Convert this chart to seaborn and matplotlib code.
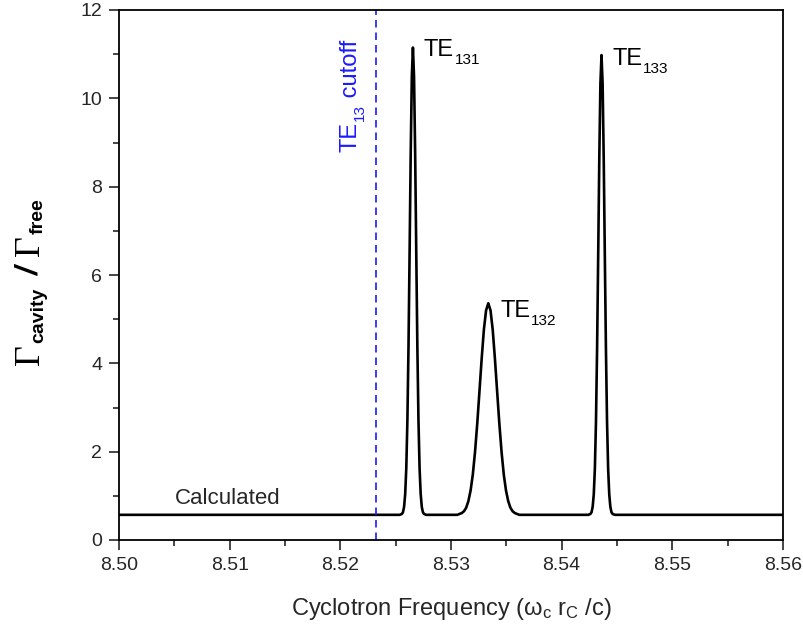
import numpy as np
import pandas as pd
import seaborn as sns
import matplotlib.pyplot as plt
from matplotlib.ticker import MultipleLocator, FormatStrFormatter

# baseline level and curve
baseline = 0.57
start_x, end_x = 8.500, 8.560

peak1_x = [8.52536, 8.52556, 8.52566, 8.52576, 8.52586, 8.52596, 8.52606, 8.52616, 8.52626,
           8.52636, 8.52646, 8.52656, 8.52666, 8.52676, 8.52686, 8.52696, 8.52706, 8.52716,
           8.52726, 8.52736, 8.52746, 8.52756, 8.52776]
peak1_y = [0.57, 0.59, 0.63, 0.75, 1.04, 1.63, 2.71, 4.38, 6.53, 8.77, 10.49, 11.15,
           10.49, 8.77, 6.53, 4.38, 2.71, 1.63, 1.04, 0.75, 0.63, 0.59, 0.57]

peak2_x = [8.53057, 8.53077, 8.53097, 8.53117, 8.53137, 8.53157, 8.53177, 8.53197, 8.53217,
           8.53237, 8.53257, 8.53277, 8.53297, 8.53317, 8.53337, 8.53357, 8.53377, 8.53397,
           8.53417, 8.53437, 8.53457, 8.53477, 8.53497, 8.53517, 8.53537, 8.53557, 8.53577,
           8.53597, 8.53617]
peak2_y = [0.57, 0.59, 0.61, 0.65, 0.73, 0.88, 1.12, 1.48, 1.99, 2.63, 3.36, 4.10, 4.76,
           5.20, 5.36, 5.20, 4.76, 4.10, 3.36, 2.63, 1.99, 1.48, 1.12, 0.88, 0.73, 0.65,
           0.61, 0.59, 0.57]

peak3_x = [8.54240, 8.54260, 8.54270, 8.54280, 8.54290, 8.54300, 8.54310, 8.54320, 8.54330,
           8.54340, 8.54350, 8.54360, 8.54370, 8.54380, 8.54390, 8.54400, 8.54410, 8.54420,
           8.54430, 8.54440, 8.54450, 8.54460, 8.54480]
peak3_y = [0.57, 0.59, 0.63, 0.75, 1.03, 1.61, 2.67, 4.32, 6.43, 8.64, 10.33, 10.98,
           10.33, 8.64, 6.43, 4.32, 2.67, 1.61, 1.03, 0.75, 0.63, 0.59, 0.57]

cutoff_x = 8.5232

# mode labels: (x, y, subscript)
mode_labels = [(8.52756, 10.96, '131'), (8.53443, 5.06, '132'), (8.54455, 10.75, '133')]

sns.set_style('ticks')
plt.rcParams['font.family'] = ['Liberation Sans', 'DejaVu Sans']
plt.rcParams['mathtext.fontset'] = 'custom'
plt.rcParams['mathtext.rm'] = 'Liberation Sans'
plt.rcParams['mathtext.it'] = 'Liberation Sans:italic'
plt.rcParams['mathtext.bf'] = 'Liberation Sans:bold'

curve = pd.DataFrame({
    'x': [start_x] + peak1_x + peak2_x + peak3_x + [end_x],
    'y': [baseline] + peak1_y + peak2_y + peak3_y + [baseline],
})

W, H = 804, 630
fig = plt.figure(figsize=(W / 100, H / 100), dpi=100)
ax = fig.add_axes([119 / W, 1 - 540 / H, 664 / W, 530 / H])
renderer = fig.canvas.get_renderer()

sns.lineplot(data=curve, x='x', y='y', ax=ax, color='black', linewidth=1.9,
             estimator=None, sort=False)
ax.axvline(cutoff_x, color='#1a1aff', linestyle=(0, (4.5, 3)), linewidth=1.2)

ax.set_xlim(8.50, 8.56)
ax.set_ylim(0, 12)
ax.xaxis.set_major_locator(MultipleLocator(0.01))
ax.xaxis.set_minor_locator(MultipleLocator(0.005))
ax.xaxis.set_major_formatter(FormatStrFormatter('%.2f'))
ax.yaxis.set_major_locator(MultipleLocator(2))
ax.yaxis.set_minor_locator(MultipleLocator(1))
ax.tick_params(which='major', direction='out', length=7, width=1.2, labelsize=14,
               top=False, right=False, pad=5)
ax.tick_params(which='minor', direction='out', length=4, width=1.2, top=False, right=False)
for s in ax.spines.values():
    s.set_visible(True)
    s.set_linewidth(1.3)
    s.set_color('black')

ax.set_xlabel(r'Cyclotron Frequency ($\mathregular{\omega_c\ r_C\ /c}$)', fontsize=17, labelpad=16)
ax.set_ylabel('')


def stack_text(x_px, y_px, pieces, rotated=False, color='black'):
    # pieces: (text, family, size, weight, style, shift_down_px, gap_px)
    pos = y_px if rotated else x_px
    for txt, fam, size, weight, style, drop, gap in pieces:
        if rotated:
            xy = ((x_px + drop) / W, pos / H)
        else:
            xy = (pos / W, (y_px - drop) / H)
        t = fig.text(xy[0], xy[1], txt, rotation=90 if rotated else 0,
                     rotation_mode='anchor', ha='left', va='baseline', color=color,
                     fontfamily=fam, fontsize=size, fontweight=weight, fontstyle=style)
        bb = t.get_window_extent(renderer)
        pos += (bb.height if rotated else bb.width) + gap


for mx, my, sub in mode_labels:
    px, py = ax.transData.transform((mx, my))
    stack_text(px, py, [('TE', 'Liberation Sans', 17, 'normal', 'normal', 0, 1),
                        (sub, 'Liberation Sans', 11, 'normal', 'normal', 8, 0)])

ax.text(8.50506, 0.815, 'Calculated', fontsize=16, ha='left', va='baseline')

cx, cy = ax.transData.transform((8.5215, 8.78))
stack_text(cx, cy, [('TE', 'Liberation Sans', 17, 'normal', 'normal', 0, 1),
                    ('13', 'Liberation Sans', 11, 'normal', 'normal', 7, 0),
                    (' cutoff', 'Liberation Sans', 17, 'normal', 'normal', 0, 0)],
           rotated=True, color='#1a1aff')

# y label built from pieces: serif Gamma, small bold subscripts
stack_text(39, H - 365, [
    ('\u0393', 'Liberation Serif', 26, 'normal', 'normal', 0, 1),
    ('cavity', 'Liberation Sans', 14, 'bold', 'normal', 4, 12),
    ('/', 'Liberation Sans', 22, 'bold', 'italic', 0, 11),
    ('\u0393', 'Liberation Serif', 26, 'normal', 'normal', 0, 1),
    ('free', 'Liberation Sans', 14, 'bold', 'normal', 4, 0),
], rotated=True)

fig.savefig('out.png', dpi=100)
